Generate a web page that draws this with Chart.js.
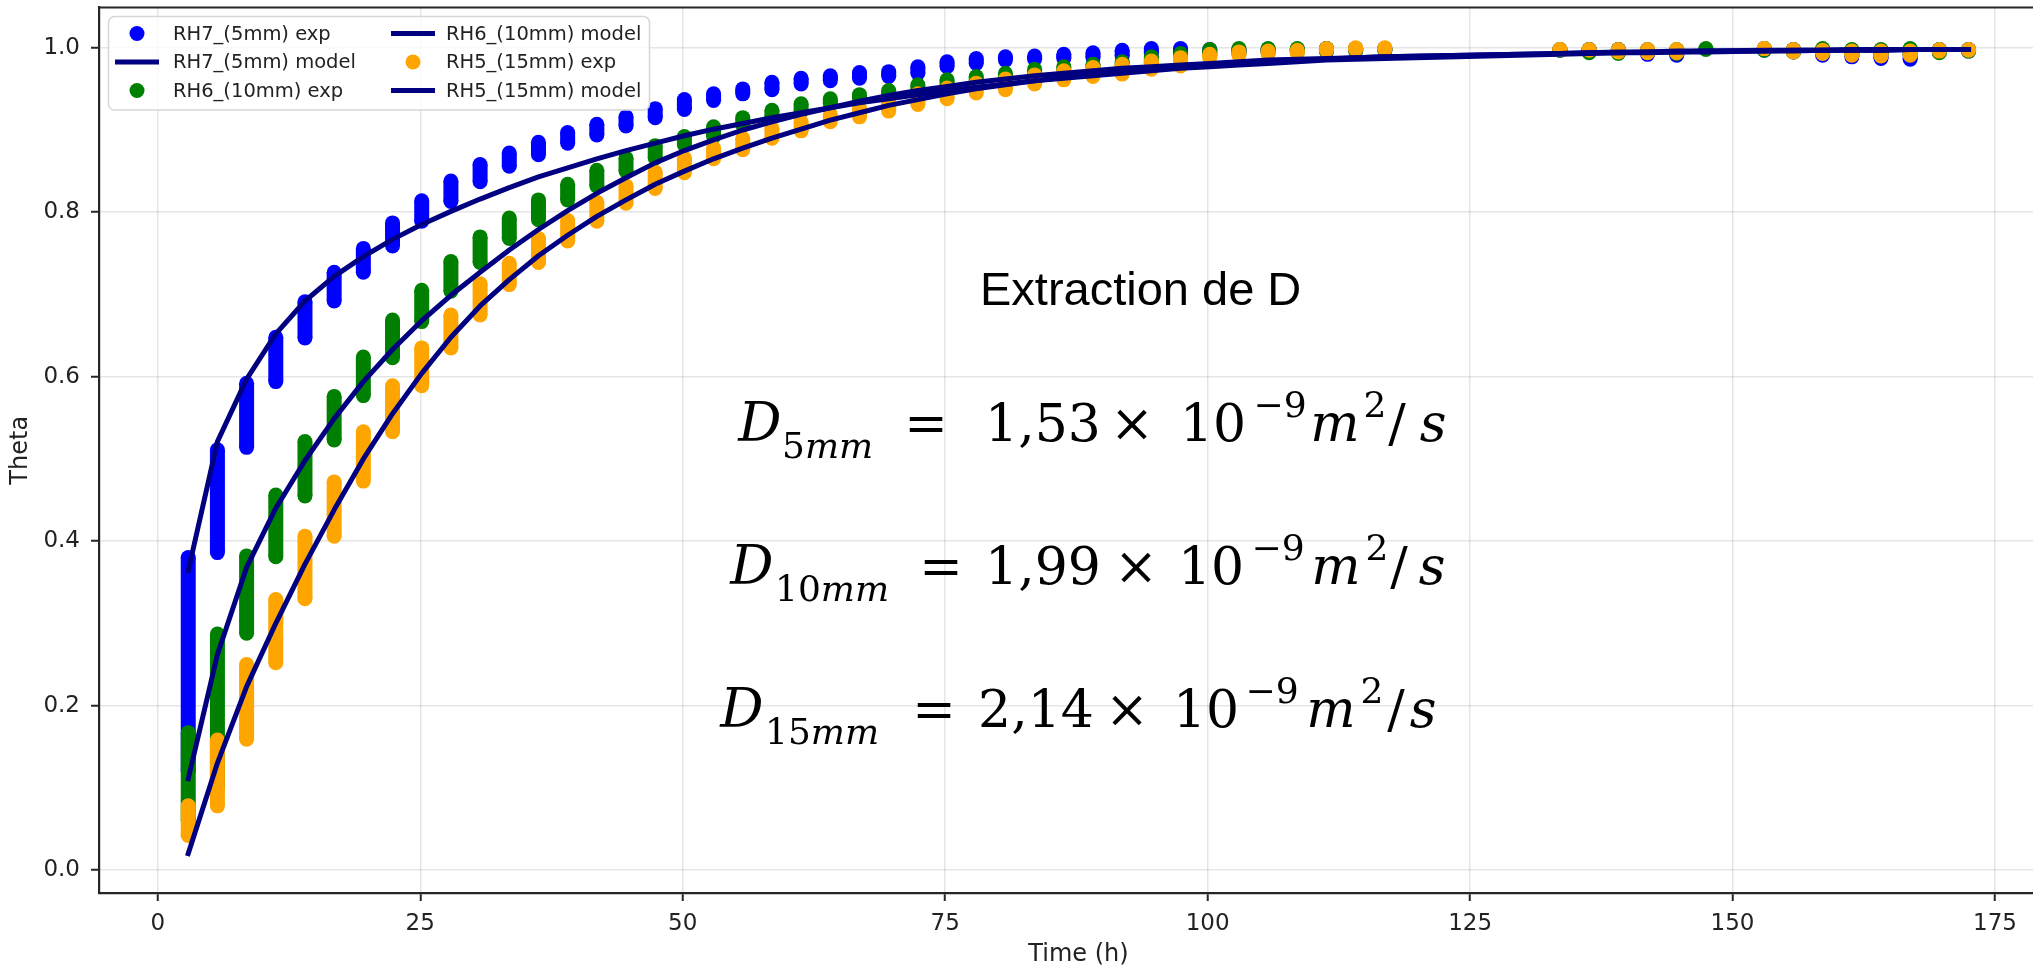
<!DOCTYPE html>
<html>
<head>
<meta charset="utf-8">
<title>Extraction de D</title>
<script src="https://cdn.jsdelivr.net/npm/chart.js@4"></script>
<style>
  html, body { margin: 0; padding: 0; background: #fff; }
  #wrap { width: 2033px; height: 966px; overflow: hidden; position: relative; }
  #chart { display: block; }
</style>
</head>
<body>
<div id="wrap"><canvas id="chart" width="2080" height="966"></canvas></div>
<script>
// sampling times (h), gap between ~117 h and ~133 h in the measurements
const times = [2.90, 5.68, 8.46, 11.24, 14.02, 16.80, 19.58, 22.36, 25.14, 27.92,
  30.70, 33.48, 36.26, 39.04, 41.82, 44.60, 47.38, 50.16, 52.94, 55.72,
  58.50, 61.28, 64.06, 66.84, 69.62, 72.40, 75.18, 77.96, 80.74, 83.52,
  86.30, 89.08, 91.86, 94.64, 97.42, 100.20, 102.98, 105.76, 108.54, 111.32,
  114.10, 116.88,
  133.56, 136.34, 139.12, 141.90, 144.68, 147.46,
  153.02, 155.80, 158.58, 161.36, 164.14, 166.92, 169.70, 172.48];

// experimental theta: lowest / highest value measured at each time
const rh7Lo = [0.120, 0.386, 0.514, 0.594, 0.647, 0.692, 0.727, 0.759, 0.789, 0.813,
  0.837, 0.856, 0.870, 0.884, 0.894, 0.905, 0.915, 0.925, 0.936, 0.944,
  0.949, 0.956, 0.960, 0.963, 0.965, 0.969, 0.977, 0.981, 0.985, 0.986,
  0.987, 0.988, 0.990, 0.993, 0.995, 0.994, 0.995, 0.996, 0.996, 0.996,
  0.997, 0.997,
  0.997, 0.996, 0.995, 0.992, 0.991, null,
  0.997, 0.995, 0.991, 0.989, 0.987, 0.986, 0.995, 0.996];
const rh7Hi = [0.380, 0.511, 0.592, 0.648, 0.691, 0.727, 0.756, 0.787, 0.814, 0.838,
  0.858, 0.872, 0.885, 0.897, 0.907, 0.916, 0.926, 0.937, 0.944, 0.950,
  0.958, 0.963, 0.966, 0.970, 0.971, 0.977, 0.983, 0.987, 0.989, 0.990,
  0.992, 0.994, 0.997, 0.999, 0.999, 0.998, 0.998, 0.998, 0.998, 0.999,
  0.999, 0.999,
  0.998, 0.998, 0.998, 0.997, 0.997, null,
  0.999, 0.998, 0.997, 0.997, 0.997, 0.997, 0.998, 0.998];

const rh6Lo = [0.060, 0.100, 0.288, 0.381, 0.455, 0.523, 0.577, 0.623, 0.667, 0.704,
  0.739, 0.768, 0.791, 0.815, 0.832, 0.850, 0.866, 0.882, 0.892, 0.906,
  0.916, 0.923, 0.932, 0.938, 0.942, 0.947, 0.953, 0.957, 0.961, 0.966,
  0.970, 0.973, 0.976, 0.981, 0.985, 0.991, 0.993, 0.994, 0.995, 0.996,
  0.996, 0.997,
  0.997, 0.994, 0.993, 0.994, 0.993, 0.998,
  0.997, 0.995, 0.994, 0.993, 0.992, 0.992, 0.994, 0.996];
const rh6Hi = [0.167, 0.287, 0.382, 0.456, 0.521, 0.576, 0.624, 0.669, 0.705, 0.740,
  0.770, 0.793, 0.815, 0.834, 0.851, 0.866, 0.881, 0.892, 0.904, 0.915,
  0.924, 0.932, 0.938, 0.943, 0.948, 0.955, 0.961, 0.965, 0.969, 0.974,
  0.977, 0.980, 0.983, 0.989, 0.993, 0.998, 0.999, 0.999, 0.999, 0.999,
  0.999, 0.999,
  0.998, 0.998, 0.998, 0.998, 0.998, 0.999,
  0.999, 0.998, 0.999, 0.998, 0.998, 0.999, 0.998, 0.998];

const rh5Lo = [0.042, 0.078, 0.159, 0.252, 0.330, 0.406, 0.473, 0.533, 0.589, 0.635,
  0.675, 0.712, 0.739, 0.765, 0.789, 0.811, 0.829, 0.848, 0.865, 0.876,
  0.890, 0.899, 0.910, 0.916, 0.923, 0.931, 0.938, 0.945, 0.949, 0.956,
  0.961, 0.965, 0.968, 0.974, 0.978, 0.988, 0.991, 0.993, 0.994, 0.997,
  0.998, 0.998,
  0.998, 0.997, 0.995, 0.994, 0.994, null,
  0.999, 0.995, 0.993, 0.991, 0.990, 0.991, 0.996, 0.997];
const rh5Hi = [0.078, 0.158, 0.250, 0.329, 0.406, 0.472, 0.533, 0.589, 0.635, 0.675,
  0.713, 0.738, 0.768, 0.790, 0.812, 0.832, 0.849, 0.866, 0.878, 0.890,
  0.902, 0.910, 0.919, 0.926, 0.934, 0.944, 0.951, 0.957, 0.962, 0.967,
  0.972, 0.976, 0.980, 0.984, 0.988, 0.992, 0.995, 0.996, 0.997, 0.999,
  1.000, 1.000,
  0.998, 0.998, 0.998, 0.998, 0.998, null,
  0.999, 0.998, 0.997, 0.996, 0.996, 0.996, 0.998, 0.998];

// fitted diffusion model
const rh7Model = [0.364, 0.521, 0.597, 0.652, 0.692, 0.722, 0.746, 0.767, 0.785, 0.801,
  0.816, 0.830, 0.843, 0.854, 0.865, 0.875, 0.884, 0.893, 0.901, 0.908,
  0.915, 0.921, 0.927, 0.933, 0.938, 0.943, 0.948, 0.952, 0.956, 0.960,
  0.963, 0.966, 0.969, 0.972, 0.975, 0.977, 0.979, 0.981, 0.983, 0.985,
  0.986, 0.987,
  0.992, 0.993, 0.994, 0.994, 0.995, 0.995,
  0.996, 0.996, 0.997, 0.997, 0.997, 0.998, 0.998, 0.998];
const rh6Model = [0.111, 0.262, 0.368, 0.440, 0.498, 0.549, 0.594, 0.633, 0.668, 0.699,
  0.727, 0.754, 0.779, 0.802, 0.823, 0.842, 0.860, 0.875, 0.888, 0.900,
  0.910, 0.919, 0.927, 0.935, 0.942, 0.948, 0.953, 0.958, 0.962, 0.966,
  0.969, 0.972, 0.975, 0.977, 0.979, 0.981, 0.983, 0.985, 0.986, 0.987,
  0.988, 0.989,
  0.993, 0.994, 0.995, 0.995, 0.996, 0.996,
  0.997, 0.997, 0.997, 0.998, 0.998, 0.998, 0.998, 0.998];
const rh5Model = [0.020, 0.130, 0.223, 0.300, 0.372, 0.438, 0.500, 0.555, 0.604, 0.648,
  0.686, 0.718, 0.747, 0.772, 0.795, 0.815, 0.834, 0.850, 0.865, 0.878,
  0.890, 0.901, 0.912, 0.921, 0.930, 0.937, 0.944, 0.950, 0.955, 0.960,
  0.964, 0.968, 0.971, 0.974, 0.977, 0.979, 0.981, 0.983, 0.985, 0.986,
  0.988, 0.989,
  0.993, 0.994, 0.994, 0.995, 0.995, 0.996,
  0.996, 0.997, 0.997, 0.997, 0.997, 0.998, 0.998, 0.998];

const xTicks = [0, 25, 50, 75, 100, 125, 150, 175];
const yTicks = [0, 0.2, 0.4, 0.6, 0.8, 1.0];

// annotation text
const thickness = ['5', '10', '15'];
const dValues = ['1,53', '1,99', '2,14'];

const NAVY = '#000080';
const FONT = 'DejaVu Sans';

// each measurement time becomes a vertical run from lo to hi
function expData(lo, hi) {
  const pts = [];
  times.forEach((t, i) => {
    if (lo[i] === null) return;
    pts.push({ x: t, y: lo[i] }, { x: t, y: hi[i] }, { x: t, y: null });
  });
  return pts;
}

function modelData(vals) {
  return times.map((t, i) => ({ x: t, y: vals[i] }));
}

function expSet(label, color, lo, hi, order) {
  return {
    label: label, kind: 'exp', order: order,
    data: expData(lo, hi),
    showLine: true, spanGaps: false,
    borderColor: color, backgroundColor: color,
    borderWidth: 15, borderCapStyle: 'butt',
    pointRadius: 7.5, pointHoverRadius: 7.5, pointBorderWidth: 0,
    pointBackgroundColor: color
  };
}

function modelSet(label, vals, order) {
  return {
    label: label, kind: 'model', order: order,
    data: modelData(vals),
    borderColor: NAVY, backgroundColor: NAVY,
    borderWidth: 5, borderCapStyle: 'square', borderJoinStyle: 'round',
    pointRadius: 0, tension: 0
  };
}

// slot centres of each piece of the three D formulas
const formulaLayout = [
  { base: 441, D: 760, sub: 782, eq: 926, val: 1043, times: 1132, ten: 1213, exp: 1280, m: 1335, two: 1375, slash: 1397, s: 1433 },
  { base: 584, D: 752, sub: 775, eq: 941, val: 1043, times: 1136, ten: 1211, exp: 1278, m: 1336, two: 1377, slash: 1399, s: 1432 },
  { base: 727, D: 742, sub: 765, eq: 934, val: 1036, times: 1127, ten: 1206, exp: 1272, m: 1331, two: 1372, slash: 1396, s: 1423 }
];

// legend, top spine and the text on the plot
const overlay = {
  id: 'overlay',
  afterDraw(chart) {
    const ctx = chart.ctx, a = chart.chartArea;
    ctx.save();

    ctx.strokeStyle = '#262626';
    ctx.lineWidth = 2.2;
    ctx.beginPath();
    ctx.moveTo(a.left - 1.1, a.top);
    ctx.lineTo(a.right, a.top);
    ctx.stroke();

    // legend box
    const bx = 108.5, by = 16.5, bw = 541, bh = 93.5, r = 6;
    ctx.beginPath();
    ctx.moveTo(bx + r, by);
    ctx.arcTo(bx + bw, by, bx + bw, by + bh, r);
    ctx.arcTo(bx + bw, by + bh, bx, by + bh, r);
    ctx.arcTo(bx, by + bh, bx, by, r);
    ctx.arcTo(bx, by, bx + bw, by, r);
    ctx.closePath();
    ctx.fillStyle = 'rgba(255,255,255,0.8)';
    ctx.fill();
    ctx.strokeStyle = '#d6d6d6';
    ctx.lineWidth = 1.5;
    ctx.stroke();

    const rows = [33.5, 62, 90.5];
    const cols = [{ mx: 137, tx: 173 }, { mx: 413, tx: 446 }];
    ctx.font = '19.5px "' + FONT + '"';
    ctx.textBaseline = 'middle';
    ctx.textAlign = 'left';
    chart.data.datasets.forEach((ds, i) => {
      const c = cols[Math.floor(i / 3)], y = rows[i % 3];
      if (ds.kind === 'exp') {
        ctx.fillStyle = ds.borderColor;
        ctx.beginPath();
        ctx.arc(c.mx, y, 7.5, 0, Math.PI * 2);
        ctx.fill();
      } else {
        ctx.strokeStyle = ds.borderColor;
        ctx.lineWidth = 5;
        ctx.lineCap = 'butt';
        ctx.beginPath();
        ctx.moveTo(c.mx - 22, y);
        ctx.lineTo(c.mx + 22, y);
        ctx.stroke();
      }
      ctx.fillStyle = '#222';
      ctx.fillText(ds.label, c.tx, y + 1);
    });

    // annotation
    ctx.textBaseline = 'alphabetic';
    ctx.fillStyle = '#000';
    ctx.font = '47px "Liberation Sans"';
    ctx.fillText('Extraction de D', 980, 305);

    const serif = (size, italic) => (italic ? 'italic ' : '') + size + 'px "DejaVu Serif"';
    const put = (text, x, y, size, italic) => {
      ctx.font = serif(size, italic);
      ctx.fillText(text, x, y);
    };
    formulaLayout.forEach((p, i) => {
      ctx.textAlign = 'center';
      put('D', p.D, p.base, 54, true);
      put('=', p.eq, p.base, 52, false);
      put(dValues[i], p.val, p.base, 52, false);
      put('\u00d7', p.times, p.base, 52, false);
      put('10', p.ten, p.base, 52, false);
      put('\u22129', p.exp, p.base - 24, 36, false);
      put('m', p.m, p.base, 52, true);
      put('2', p.two, p.base - 24, 36, false);
      put('/', p.slash, p.base, 52, false);
      put('s', p.s, p.base, 52, true);
      // subscript: digits upright, unit italic
      ctx.textAlign = 'left';
      ctx.font = serif(36, false);
      const w = ctx.measureText(thickness[i]).width;
      ctx.fillText(thickness[i], p.sub, p.base + 17);
      put('mm', p.sub + w, p.base + 17, 36, true);
    });

    ctx.restore();
  }
};

new Chart(document.getElementById('chart'), {
  type: 'line',
  data: {
    datasets: [
      expSet('RH7_(5mm) exp', '#0000ff', rh7Lo, rh7Hi, 5),
      modelSet('RH7_(5mm) model', rh7Model, 2),
      expSet('RH6_(10mm) exp', '#008000', rh6Lo, rh6Hi, 4),
      modelSet('RH6_(10mm) model', rh6Model, 1),
      expSet('RH5_(15mm) exp', '#ffa500', rh5Lo, rh5Hi, 3),
      modelSet('RH5_(15mm) model', rh5Model, 0)
    ]
  },
  options: {
    responsive: false,
    animation: false,
    events: [],
    layout: { padding: { left: 0, right: 22, top: 6, bottom: 0 } },
    plugins: { legend: { display: false }, tooltip: { enabled: false } },
    scales: {
      x: {
        type: 'linear', min: -5.6, max: 181,
        afterBuildTicks: s => { s.ticks = xTicks.map(v => ({ value: v })); },
        afterFit: s => { s.height = 73; s.paddingLeft = 0; s.paddingRight = 0; },
        ticks: { font: { family: FONT, size: 23 }, color: '#222', padding: 9, maxRotation: 0, callback: v => String(v) },
        grid: { color: 'rgba(0,0,0,0.1)', lineWidth: 1.5, tickColor: '#262626', tickLength: 8, tickWidth: 2 },
        border: { color: '#262626', width: 2.2 },
        title: { display: true, text: 'Time (h)', color: '#222', font: { family: FONT, size: 24, lineHeight: 0.95 }, padding: { top: 0, bottom: 0 } }
      },
      y: {
        min: -0.028, max: 1.049,
        afterBuildTicks: s => { s.ticks = yTicks.map(v => ({ value: v })); },
        afterFit: s => { s.width = 99; s.paddingTop = 0; s.paddingBottom = 0; },
        ticks: { font: { family: FONT, size: 23 }, color: '#222', padding: 11, callback: v => v.toFixed(1) },
        grid: { color: 'rgba(0,0,0,0.1)', lineWidth: 1.5, tickColor: '#262626', tickLength: 8, tickWidth: 2 },
        border: { color: '#262626', width: 2.2 },
        title: { display: true, text: 'Theta', color: '#222', font: { family: FONT, size: 24, lineHeight: 1.2 }, padding: { top: 6, bottom: 0 } }
      }
    }
  },
  plugins: [overlay]
});
</script>
</body>
</html>
